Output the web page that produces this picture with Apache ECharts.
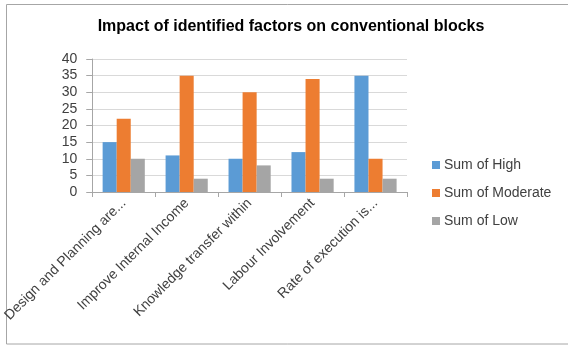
<!DOCTYPE html>
<html>
<head>
<meta charset="utf-8">
<script src="https://cdn.jsdelivr.net/npm/echarts@6/dist/echarts.min.js"></script>
<style>
html,body{margin:0;padding:0;background:#fff;}
#c{width:568px;height:346px;}
</style>
</head>
<body>
<div id="c"></div>
<script>
const categories = ["Design and Planning are...", "Improve Internal Income", "Knowledge transfer within", "Labour Involvement", "Rate of execution is..."];
const sumHigh = [15, 11, 10, 12, 35];
const sumModerate = [22, 35, 30, 34, 10];
const sumLow = [10, 4, 8, 4, 4];
const yTicks = [0, 5, 10, 15, 20, 25, 30, 35, 40];

const FONT = "Liberation Sans";
const chart = echarts.init(document.getElementById('c'), null, {renderer: 'canvas'});
chart.setOption({
  animation: false,
  backgroundColor: '#fff',
  textStyle: {fontFamily: FONT},
  title: {
    text: 'Impact of identified factors on conventional blocks',
    left: 291, top: 19, textAlign: 'center', padding: 0,
    textStyle: {fontFamily: FONT, fontSize: 16, fontWeight: 'bold', color: '#000'}
  },
  graphic: [{
    type: 'rect', shape: {x: 6.5, y: 4.5, width: 570, height: 339.5},
    style: {fill: 'none', stroke: '#A6A6A6', lineWidth: 1}, silent: true
  }],
  legend: {
    orient: 'vertical', left: 432, top: 158, itemGap: 14, padding: 0,
    itemWidth: 8, itemHeight: 8, icon: 'rect',
    textStyle: {fontFamily: FONT, fontSize: 14, color: '#404040', padding: [0, 0, 0, -1]},
    data: ['Sum of High', 'Sum of Moderate', 'Sum of Low']
  },
  grid: {left: 92, top: 59, right: 161, bottom: 154, containLabel: false},
  xAxis: {
    type: 'category', data: categories, boundaryGap: true,
    axisLine: {lineStyle: {color: '#A6A6A6', width: 1}},
    axisTick: {show: true, length: 5, lineStyle: {color: '#A6A6A6'}},
    axisLabel: {rotate: 45, interval: 0, margin: 9, fontFamily: FONT, fontSize: 14, color: '#404040'}
  },
  yAxis: {
    type: 'value', min: yTicks[0], max: yTicks[yTicks.length - 1], interval: 5,
    axisLine: {show: true, lineStyle: {color: '#A6A6A6', width: 1}},
    axisTick: {show: true, length: 6, lineStyle: {color: '#A6A6A6'}},
    splitLine: {show: true, lineStyle: {color: '#D9D9D9', width: 1}},
    axisLabel: {margin: 15, fontFamily: FONT, fontSize: 14, color: '#404040'}
  },
  series: [
    {name: 'Sum of High', type: 'bar', data: sumHigh, itemStyle: {color: '#5B9BD5'}, barGap: '0%', barCategoryGap: '33%'},
    {name: 'Sum of Moderate', type: 'bar', data: sumModerate, itemStyle: {color: '#ED7D31'}, barGap: '0%', barCategoryGap: '33%'},
    {name: 'Sum of Low', type: 'bar', data: sumLow, itemStyle: {color: '#A5A5A5'}, barGap: '0%', barCategoryGap: '33%'}
  ]
});
</script>
</body>
</html>
